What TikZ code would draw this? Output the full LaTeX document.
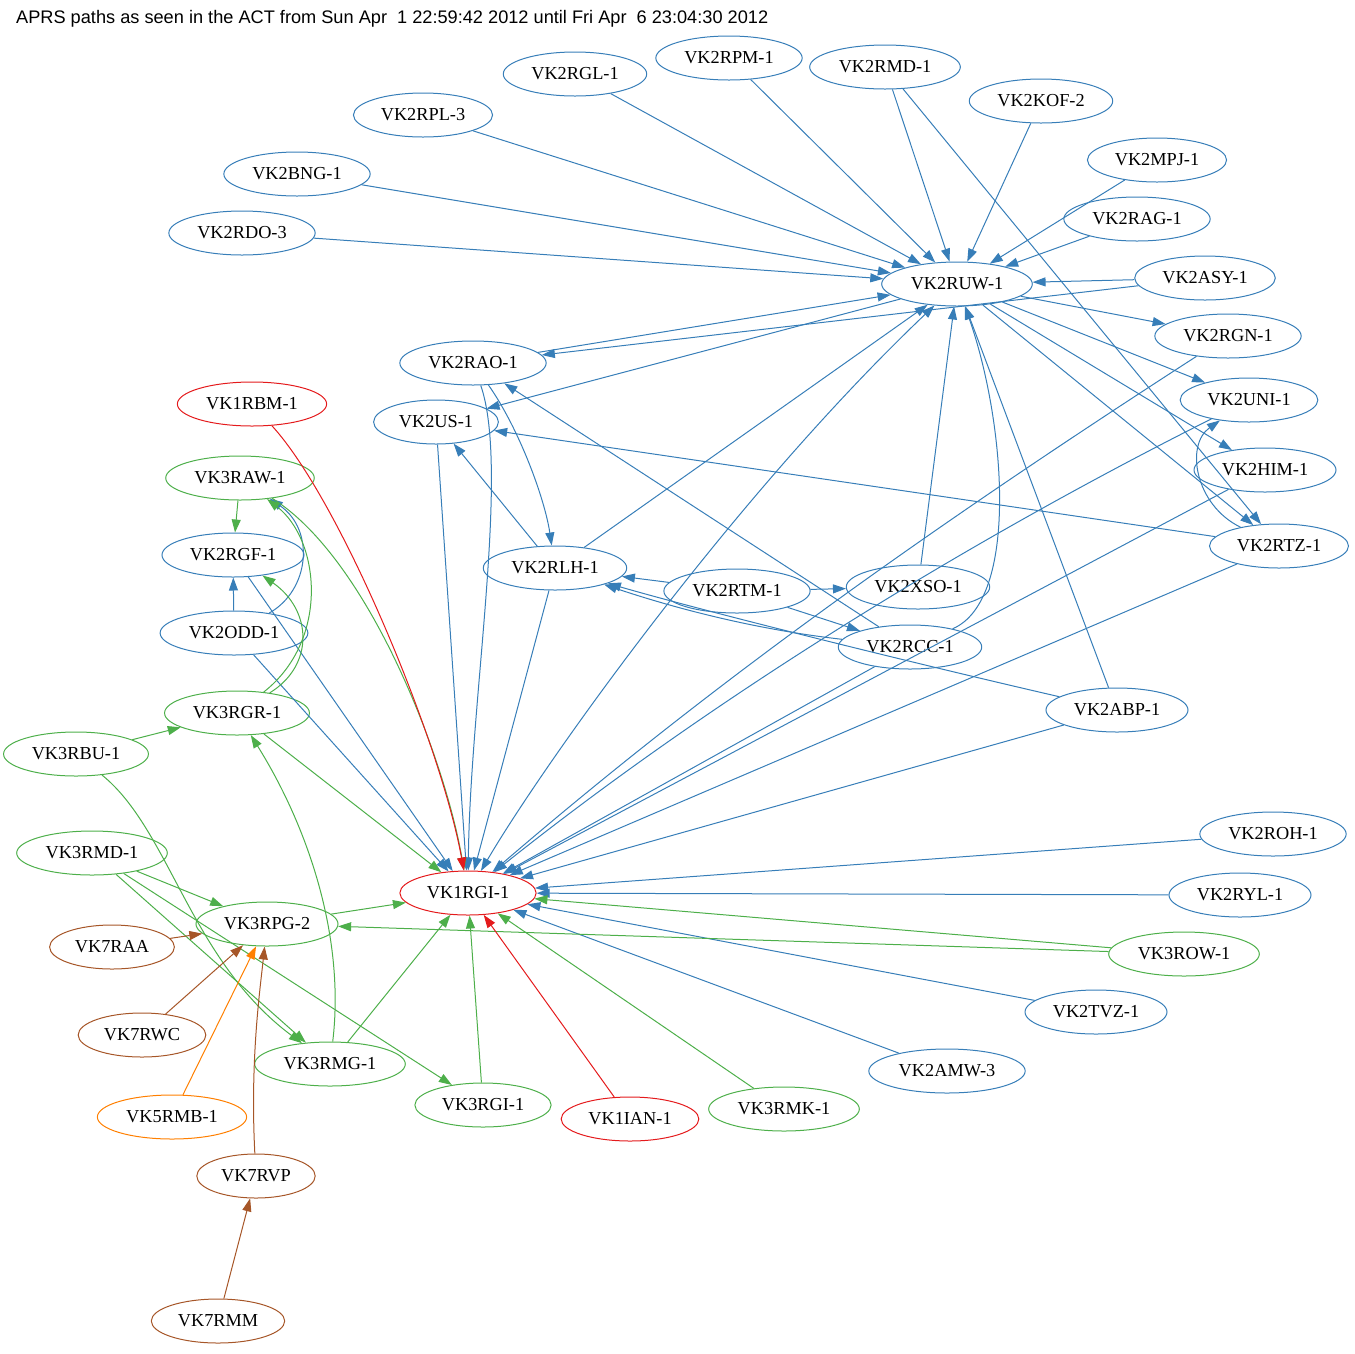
\documentclass[tikz,border=0pt]{standalone}
\usepackage{fontspec}
\usepackage{graphicx}
\setmainfont{Liberation Serif}
\newfontfamily\titlefont{Liberation Sans}
\usetikzlibrary{shapes.geometric,arrows.meta}
\definecolor{cb}{HTML}{377EB8}
\definecolor{cg}{HTML}{4DAF4A}
\definecolor{cr}{HTML}{E41A1C}
\definecolor{co}{HTML}{FF7F00}
\definecolor{cn}{HTML}{A65628}
\begin{document}
\begin{tikzpicture}[x=1pt,y=-1pt,
  nd/.style={ellipse,draw=#1,line width=1pt,minimum height=44pt,inner xsep=7pt,inner ysep=2pt,font=\fontsize{18.3}{21}\selectfont},
  ed/.style={draw=#1,line width=1pt,-{Triangle[length=13pt,width=9pt]}},
  edb/.style={draw=#1,line width=1pt,{Triangle[length=13pt,width=9pt]}-{Triangle[length=13pt,width=9pt]}}]
\useasboundingbox (0,0) rectangle (1355,1353);
\node[anchor=west,inner sep=0pt] (title) at (16,19) {\resizebox{752pt}{!}{\titlefont APRS paths as seen in the ACT from Sun Apr\ \ 1 22:59:42 2012 until Fri Apr\ \ 6 23:04:30 2012}};
% nodes
\node[nd=cb] (rgl) at (575,74) {VK2RGL-1};
\node[nd=cb] (rpm) at (729,58) {VK2RPM-1};
\node[nd=cb] (rmd2) at (885,67) {VK2RMD-1};
\node[nd=cb] (kof) at (1041,101) {VK2KOF-2};
\node[nd=cb] (mpj) at (1157,160) {VK2MPJ-1};
\node[nd=cb] (rag) at (1137,219) {VK2RAG-1};
\node[nd=cb] (rpl) at (423,115) {VK2RPL-3};
\node[nd=cb] (bng) at (297,174) {VK2BNG-1};
\node[nd=cb] (rdo) at (242,233) {VK2RDO-3};
\node[nd=cb] (ruw) at (957,284) {VK2RUW-1};
\node[nd=cb] (asy) at (1205,278) {VK2ASY-1};
\node[nd=cb] (rgn) at (1228,336) {VK2RGN-1};
\node[nd=cb] (rao) at (473,363) {VK2RAO-1};
\node[nd=cr] (rbm) at (252,404) {VK1RBM-1};
\node[nd=cb] (us) at (436,422) {VK2US-1};
\node[nd=cb] (uni) at (1249,400) {VK2UNI-1};
\node[nd=cg] (raw) at (240,478) {VK3RAW-1};
\node[nd=cb] (him) at (1265,470) {VK2HIM-1};
\node[nd=cb] (rgf) at (233,555) {VK2RGF-1};
\node[nd=cb] (rtz) at (1279,546) {VK2RTZ-1};
\node[nd=cb] (rlh) at (555,568) {VK2RLH-1};
\node[nd=cb] (rtm) at (737,591) {VK2RTM-1};
\node[nd=cb] (xso) at (918,587) {VK2XSO-1};
\node[nd=cb] (odd) at (234,633) {VK2ODD-1};
\node[nd=cb] (rcc) at (910,647) {VK2RCC-1};
\node[nd=cg] (rgr) at (237,713) {VK3RGR-1};
\node[nd=cb] (abp) at (1117,710) {VK2ABP-1};
\node[nd=cg] (rbu) at (76,754) {VK3RBU-1};
\node[nd=cb] (roh) at (1273,834) {VK2ROH-1};
\node[nd=cg] (rmd3) at (92,853) {VK3RMD-1};
\node[nd=cr] (rgi1) at (468,893) {VK1RGI-1};
\node[nd=cb] (ryl) at (1240,895) {VK2RYL-1};
\node[nd=cg] (rpg) at (267,924) {VK3RPG-2};
\node[nd=cn] (raa) at (112,947) {VK7RAA};
\node[nd=cg] (row) at (1184,954) {VK3ROW-1};
\node[nd=cn] (rwc) at (142,1035) {VK7RWC};
\node[nd=cb] (tvz) at (1096,1012) {VK2TVZ-1};
\node[nd=cg] (rmg) at (330,1064) {VK3RMG-1};
\node[nd=cb] (amw) at (947,1071) {VK2AMW-3};
\node[nd=cg] (rgi3) at (483,1105) {VK3RGI-1};
\node[nd=cr] (ian) at (630,1119) {VK1IAN-1};
\node[nd=cg] (rmk) at (784,1109) {VK3RMK-1};
\node[nd=co] (rmb) at (172,1117) {VK5RMB-1};
\node[nd=cn] (rvp) at (256,1176) {VK7RVP};
\node[nd=cn] (rmm) at (218,1321) {VK7RMM};
% blue edges into RUW
\foreach \s in {rgl,rpm,rmd2,kof,mpj,rag,rpl,bng,rdo,asy,rao,rlh,xso,abp}
  \draw[ed=cb] (\s) -- (ruw);
\draw[ed=cb] (rcc) .. controls (1020,600) and (1005,420) .. (ruw);
\draw[edb=cb] (rgi1) .. controls (540,770) and (730,500) .. (ruw);
% out of RUW
\foreach \t in {us,rgn,uni,him,rtz}
  \draw[ed=cb] (ruw) -- (\t);
\draw[ed=cb] (rmd2) -- (rtz);
\draw[ed=cb] (asy) -- (rao);
\draw[ed=cb] (rtz) .. controls (1195,505) and (1185,445) .. (uni);
\draw[ed=cb] (rtz) -- (us);
\draw[ed=cb] (rao) .. controls (520,430) and (545,500) .. (rlh);
\draw[ed=cb] (rao) .. controls (510,470) and (470,700) .. (rgi1);
\draw[ed=cb] (rlh) -- (us);
\draw[ed=cb] (rcc) -- (rao);
\draw[ed=cb] (rtm) -- (rlh);
\draw[ed=cb] (rtm) -- (xso);
\draw[ed=cb] (rtm) -- (rcc);
\draw[ed=cb] (rcc) .. controls (760,630) and (680,610) .. (rlh);
\draw[ed=cb] (abp) .. controls (900,660) and (700,610) .. (rlh);
% blue into RGI
\foreach \s in {rlh,us,him,rtz,rcc,abp,roh,ryl,tvz,amw,rgf,odd}
  \draw[ed=cb] (\s) -- (rgi1);
\draw[ed=cb] (rgn) .. controls (943,520) and (720,676) .. (rgi1);
\draw[ed=cb] (uni) .. controls (1000,525) and (735,680) .. (rgi1);
\draw[ed=cb] (odd) -- (rgf);
\draw[ed=cb] (odd) .. controls (310,590) and (315,530) .. (raw);
% green
\draw[ed=cg] (raw) -- (rgf);
\draw[ed=cg] (raw) .. controls (370,560) and (445,760) .. (rgi1);
\draw[ed=cg] (rgr) .. controls (330,640) and (320,540) .. (raw);
\draw[ed=cg] (rgr) .. controls (315,665) and (312,610) .. (rgf);
\draw[ed=cg] (rbu) -- (rgr);
\draw[ed=cg] (rbu) .. controls (170,830) and (190,960) .. (rmg);
\draw[ed=cg] (rgr) -- (rgi1);
\draw[ed=cg] (rmd3) -- (rpg);
\draw[ed=cg] (rmd3) -- (rmg);
\draw[ed=cg] (rmd3) -- (rgi3);
\draw[ed=cg] (rpg) -- (rgi1);
\draw[ed=cg] (row) -- (rpg);
\draw[ed=cg] (row) -- (rgi1);
\draw[ed=cg] (rmg) .. controls (345,940) and (310,830) .. (rgr);
\draw[ed=cg] (rmg) -- (rgi1);
\draw[ed=cg] (rgi3) -- (rgi1);
\draw[ed=cg] (rmk) -- (rgi1);
% red
\draw[ed=cr] (rbm) .. controls (340,500) and (440,740) .. (rgi1);
\draw[ed=cr] (ian) -- (rgi1);
% brown / orange
\draw[ed=cn] (raa) -- (rpg);
\draw[ed=cn] (rwc) -- (rpg);
\draw[ed=cn] (rvp) .. controls (250,1060) and (260,990) .. (rpg);
\draw[ed=cn] (rmm) -- (rvp);
\draw[ed=co] (rmb) -- (rpg);
\end{tikzpicture}
\end{document}
